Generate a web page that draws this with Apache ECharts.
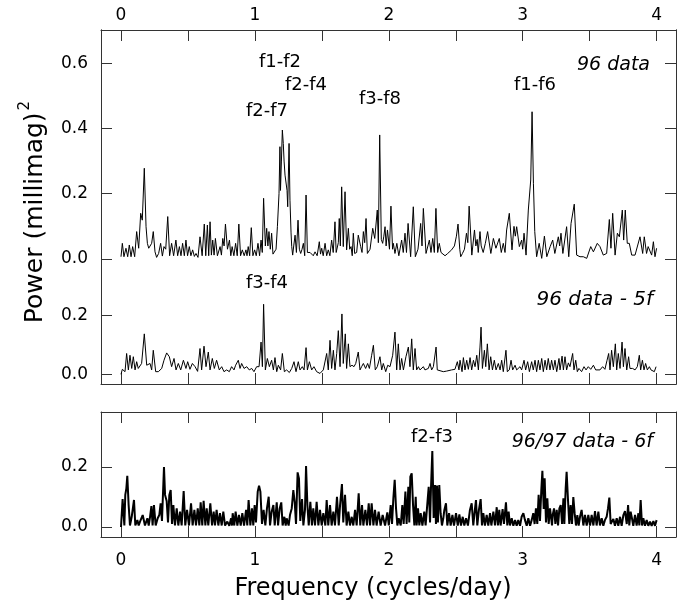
<!DOCTYPE html>
<html><head><meta charset="utf-8">
<script src="https://cdn.jsdelivr.net/npm/echarts@6/dist/echarts.min.js"></script>
<style>html,body{margin:0;padding:0;background:#fff}#c{width:684px;height:614px}</style>
</head><body><div id="c"></div>
<script>
// ---- data (frequency in cycles/day, power in millimag^2) ----
const top96Freq = [0.000,0.010,0.022,0.037,0.050,0.062,0.075,0.087,0.102,0.117,0.132,0.147,0.159,0.174,0.187,0.197,0.207,0.217,0.229,0.241,0.254,0.266,0.281,0.296,0.309,0.321,0.334,0.349,0.363,0.378,0.393,0.410,0.423,0.436,0.448,0.460,0.473,0.485,0.497,0.510,0.522,0.535,0.548,0.560,0.575,0.590,0.606,0.622,0.633,0.645,0.655,0.665,0.675,0.685,0.695,0.705,0.720,0.740,0.750,0.760,0.770,0.780,0.795,0.810,0.820,0.830,0.843,0.856,0.868,0.880,0.893,0.906,0.920,0.933,0.941,0.950,0.961,0.973,0.985,0.998,1.010,1.023,1.035,1.046,1.055,1.065,1.078,1.088,1.097,1.105,1.115,1.125,1.135,1.145,1.158,1.168,1.180,1.187,1.191,1.198,1.205,1.212,1.218,1.225,1.232,1.240,1.245,1.255,1.262,1.270,1.275,1.282,1.290,1.300,1.310,1.322,1.332,1.342,1.352,1.362,1.372,1.382,1.392,1.400,1.412,1.424,1.436,1.449,1.465,1.481,1.490,1.499,1.510,1.524,1.536,1.548,1.560,1.573,1.585,1.598,1.607,1.616,1.623,1.630,1.638,1.648,1.660,1.673,1.685,1.698,1.708,1.718,1.727,1.735,1.745,1.760,1.772,1.790,1.800,1.810,1.820,1.830,1.840,1.860,1.880,1.895,1.914,1.922,1.932,1.944,1.954,1.963,1.972,1.980,1.990,2.005,2.016,2.028,2.034,2.046,2.060,2.075,2.096,2.108,2.121,2.132,2.144,2.163,2.183,2.198,2.218,2.238,2.248,2.258,2.278,2.303,2.315,2.328,2.340,2.352,2.365,2.377,2.390,2.402,2.420,2.440,2.469,2.490,2.505,2.517,2.530,2.537,2.550,2.565,2.580,2.590,2.600,2.620,2.640,2.650,2.660,2.668,2.681,2.690,2.705,2.721,2.738,2.762,2.781,2.800,2.825,2.840,2.855,2.868,2.880,2.900,2.920,2.935,2.945,2.955,2.975,2.992,3.000,3.010,3.025,3.042,3.060,3.070,3.080,3.090,3.104,3.123,3.142,3.162,3.180,3.205,3.224,3.240,3.266,3.276,3.286,3.300,3.328,3.344,3.361,3.370,3.385,3.403,3.428,3.453,3.478,3.508,3.528,3.557,3.577,3.602,3.627,3.647,3.659,3.672,3.690,3.707,3.722,3.744,3.754,3.766,3.781,3.796,3.814,3.839,3.876,3.896,3.908,3.925,3.937,3.963,3.976,3.988,4.000];
const top96Power = [0.007,0.048,0.007,0.033,0.007,0.043,0.007,0.038,0.007,0.084,0.033,0.140,0.119,0.278,0.099,0.048,0.033,0.028,0.048,0.084,0.022,0.005,0.017,0.048,0.009,0.038,0.030,0.130,0.010,0.048,0.010,0.058,0.010,0.038,0.010,0.048,0.010,0.058,0.010,0.038,0.010,0.028,0.008,0.017,0.005,0.068,0.010,0.107,0.010,0.104,0.010,0.114,0.012,0.058,0.012,0.063,0.010,0.038,0.012,0.063,0.040,0.107,0.030,0.058,0.010,0.038,0.010,0.048,0.010,0.107,0.010,0.028,0.010,0.028,0.010,0.038,0.010,0.096,0.010,0.028,0.010,0.048,0.010,0.058,0.020,0.186,0.040,0.094,0.040,0.084,0.030,0.079,0.015,0.017,0.030,0.099,0.200,0.344,0.210,0.300,0.395,0.354,0.300,0.257,0.260,0.210,0.160,0.354,0.180,0.080,0.038,0.012,0.040,0.073,0.020,0.119,0.030,0.017,0.030,0.048,0.010,0.196,0.020,0.017,0.020,0.017,0.010,0.022,0.010,0.053,0.015,0.033,0.010,0.048,0.010,0.028,0.010,0.058,0.020,0.114,0.020,0.022,0.050,0.124,0.040,0.221,0.038,0.206,0.028,0.094,0.030,0.038,0.010,0.079,0.017,0.020,0.073,0.038,0.020,0.084,0.050,0.124,0.017,0.030,0.094,0.063,0.150,0.050,0.380,0.060,0.048,0.070,0.099,0.040,0.089,0.030,0.162,0.030,0.048,0.017,0.048,0.010,0.058,0.020,0.079,0.020,0.109,0.007,0.160,0.007,0.030,0.109,0.040,0.155,0.017,0.058,0.020,0.063,0.020,0.155,0.020,0.048,0.020,0.022,0.010,0.017,0.028,0.040,0.070,0.107,0.030,0.007,0.017,0.030,0.079,0.050,0.162,0.012,0.089,0.040,0.060,0.020,0.084,0.040,0.020,0.048,0.084,0.017,0.063,0.033,0.063,0.020,0.048,0.020,0.089,0.140,0.028,0.100,0.070,0.099,0.038,0.058,0.030,0.079,0.012,0.150,0.242,0.451,0.232,0.084,0.007,0.048,0.002,0.070,0.007,0.038,0.058,0.017,0.068,0.040,0.079,0.017,0.099,0.007,0.109,0.109,0.168,0.012,0.007,0.007,0.002,0.038,0.022,0.048,0.038,0.012,0.017,0.121,0.033,0.140,0.012,0.079,0.068,0.150,0.058,0.150,0.048,0.048,0.012,0.012,0.068,0.017,0.068,0.017,0.038,0.012,0.053,0.007,0.033];

const res5fFreq = [0.000,0.010,0.017,0.030,0.042,0.055,0.067,0.080,0.092,0.105,0.117,0.129,0.142,0.154,0.174,0.192,0.217,0.229,0.241,0.259,0.279,0.304,0.321,0.341,0.361,0.378,0.396,0.411,0.428,0.446,0.466,0.485,0.498,0.515,0.533,0.553,0.572,0.590,0.602,0.620,0.635,0.652,0.665,0.682,0.697,0.714,0.734,0.752,0.769,0.789,0.809,0.826,0.844,0.856,0.876,0.889,0.901,0.919,0.939,0.958,0.976,0.993,1.006,1.013,1.031,1.046,1.056,1.065,1.078,1.093,1.108,1.125,1.138,1.150,1.163,1.175,1.192,1.205,1.220,1.237,1.257,1.275,1.292,1.307,1.324,1.337,1.354,1.367,1.382,1.392,1.407,1.424,1.441,1.461,1.486,1.511,1.524,1.536,1.548,1.561,1.573,1.586,1.598,1.611,1.623,1.636,1.650,1.660,1.675,1.685,1.698,1.710,1.725,1.740,1.753,1.772,1.785,1.797,1.810,1.827,1.842,1.855,1.872,1.885,1.899,1.914,1.934,1.947,1.959,1.977,1.992,2.009,2.029,2.046,2.059,2.071,2.084,2.096,2.109,2.128,2.146,2.158,2.171,2.183,2.196,2.208,2.221,2.233,2.258,2.270,2.295,2.308,2.320,2.333,2.353,2.362,2.375,2.407,2.432,2.469,2.494,2.512,2.524,2.532,2.547,2.557,2.569,2.582,2.594,2.607,2.619,2.632,2.644,2.657,2.669,2.681,2.689,2.699,2.714,2.724,2.736,2.749,2.761,2.774,2.788,2.801,2.818,2.831,2.843,2.855,2.875,2.885,2.900,2.913,2.925,2.943,2.955,2.967,2.980,2.992,3.010,3.022,3.037,3.050,3.067,3.079,3.092,3.104,3.117,3.129,3.142,3.154,3.167,3.179,3.191,3.204,3.216,3.229,3.241,3.254,3.271,3.279,3.294,3.304,3.316,3.328,3.341,3.353,3.373,3.383,3.396,3.408,3.420,3.440,3.458,3.473,3.490,3.508,3.528,3.545,3.557,3.577,3.597,3.614,3.630,3.642,3.652,3.664,3.677,3.692,3.702,3.714,3.727,3.742,3.752,3.764,3.777,3.791,3.801,3.821,3.839,3.856,3.871,3.881,3.894,3.906,3.918,3.931,3.946,3.958,3.971,3.983,3.996];
const res5fPower = [0.000,0.017,0.020,0.009,0.071,0.015,0.065,0.020,0.060,0.015,0.043,0.020,0.026,0.037,0.138,0.031,0.037,0.015,0.082,0.009,0.009,0.020,0.048,0.073,0.060,0.026,0.054,0.015,0.037,0.015,0.048,0.020,0.043,0.017,0.037,0.026,0.010,0.088,0.015,0.096,0.026,0.076,0.015,0.054,0.020,0.048,0.015,0.026,0.009,0.015,0.009,0.026,0.015,0.031,0.048,0.020,0.037,0.020,0.026,0.015,0.020,0.009,0.006,0.026,0.026,0.110,0.026,0.239,0.015,0.054,0.026,0.048,0.015,0.057,0.009,0.031,0.015,0.071,0.009,0.015,0.006,0.020,0.043,0.009,0.043,0.015,0.026,0.015,0.091,0.015,0.043,0.015,0.026,0.009,0.003,0.015,0.020,0.071,0.015,0.116,0.020,0.082,0.015,0.071,0.149,0.026,0.206,0.037,0.138,0.020,0.104,0.026,0.031,0.026,0.037,0.076,0.015,0.026,0.037,0.020,0.037,0.020,0.065,0.099,0.015,0.026,0.060,0.015,0.037,0.009,0.031,0.026,0.065,0.144,0.015,0.104,0.015,0.054,0.015,0.060,0.093,0.026,0.121,0.015,0.088,0.015,0.026,0.015,0.026,0.015,0.020,0.037,0.015,0.026,0.093,0.015,0.009,0.009,0.011,0.015,0.017,0.043,0.015,0.048,0.009,0.057,0.015,0.048,0.017,0.057,0.015,0.048,0.026,0.065,0.015,0.093,0.161,0.020,0.082,0.026,0.104,0.015,0.060,0.015,0.048,0.015,0.037,0.015,0.048,0.009,0.082,0.009,0.015,0.048,0.015,0.031,0.015,0.009,0.026,0.015,0.048,0.015,0.043,0.009,0.043,0.015,0.048,0.009,0.048,0.015,0.054,0.009,0.048,0.015,0.054,0.015,0.048,0.015,0.048,0.009,0.054,0.015,0.062,0.015,0.060,0.015,0.039,0.026,0.071,0.015,0.048,0.009,0.020,0.009,0.026,0.015,0.026,0.017,0.031,0.015,0.020,0.015,0.026,0.017,0.048,0.071,0.015,0.082,0.026,0.104,0.015,0.071,0.020,0.110,0.026,0.088,0.015,0.060,0.020,0.020,0.015,0.026,0.065,0.015,0.048,0.015,0.037,0.015,0.026,0.015,0.020,0.009,0.026];

const res6fFreq = [0.000,0.012,0.025,0.032,0.040,0.047,0.057,0.067,0.080,0.097,0.107,0.122,0.132,0.142,0.162,0.179,0.197,0.207,0.217,0.227,0.236,0.246,0.259,0.274,0.286,0.296,0.306,0.321,0.329,0.341,0.351,0.361,0.371,0.381,0.391,0.403,0.416,0.428,0.441,0.453,0.468,0.480,0.493,0.508,0.523,0.535,0.548,0.560,0.573,0.585,0.595,0.607,0.617,0.630,0.640,0.652,0.667,0.680,0.692,0.702,0.714,0.727,0.739,0.752,0.764,0.777,0.794,0.809,0.822,0.829,0.834,0.846,0.856,0.869,0.881,0.894,0.906,0.919,0.934,0.943,0.953,0.966,0.978,0.988,0.998,1.008,1.021,1.031,1.041,1.053,1.065,1.078,1.090,1.103,1.113,1.125,1.138,1.148,1.163,1.173,1.185,1.197,1.207,1.220,1.230,1.237,1.252,1.262,1.275,1.287,1.297,1.307,1.319,1.329,1.339,1.352,1.362,1.374,1.382,1.392,1.402,1.414,1.426,1.436,1.449,1.461,1.474,1.486,1.499,1.511,1.526,1.536,1.548,1.561,1.573,1.586,1.598,1.613,1.626,1.636,1.650,1.660,1.673,1.685,1.698,1.710,1.723,1.735,1.748,1.760,1.775,1.787,1.800,1.810,1.825,1.837,1.850,1.860,1.872,1.885,1.897,1.909,1.924,1.939,1.954,1.972,1.989,2.000,2.014,2.024,2.034,2.044,2.054,2.064,2.074,2.089,2.101,2.111,2.124,2.133,2.146,2.153,2.161,2.171,2.181,2.191,2.201,2.208,2.218,2.228,2.238,2.251,2.265,2.275,2.288,2.298,2.308,2.315,2.325,2.335,2.345,2.352,2.360,2.367,2.377,2.387,2.397,2.407,2.415,2.427,2.437,2.450,2.462,2.475,2.487,2.502,2.515,2.527,2.539,2.552,2.564,2.577,2.591,2.606,2.619,2.631,2.644,2.651,2.661,2.673,2.686,2.696,2.706,2.718,2.731,2.743,2.756,2.766,2.781,2.793,2.806,2.815,2.825,2.835,2.850,2.860,2.875,2.885,2.895,2.905,2.918,2.930,2.943,2.955,2.967,2.980,2.992,3.005,3.017,3.030,3.042,3.055,3.067,3.079,3.089,3.099,3.109,3.119,3.129,3.139,3.147,3.157,3.164,3.174,3.184,3.194,3.204,3.214,3.219,3.224,3.234,3.244,3.254,3.264,3.274,3.284,3.294,3.304,3.311,3.321,3.328,3.339,3.348,3.358,3.368,3.378,3.388,3.398,3.408,3.418,3.428,3.440,3.453,3.465,3.478,3.490,3.503,3.515,3.528,3.540,3.552,3.565,3.577,3.590,3.602,3.614,3.627,3.637,3.647,3.657,3.667,3.677,3.689,3.702,3.714,3.727,3.739,3.752,3.764,3.777,3.787,3.796,3.806,3.816,3.826,3.839,3.851,3.864,3.871,3.881,3.891,3.901,3.913,3.926,3.938,3.951,3.963,3.976,3.988,4.000];
const res6fPower = [0.000,0.093,0.005,0.107,0.129,0.171,0.073,0.005,0.034,0.090,
  0.005,0.023,0.005,0.018,0.040,0.005,0.029,0.005,0.034,0.070,
  0.005,0.073,0.005,0.029,0.040,0.079,0.020,0.200,0.107,0.087,
  0.015,0.107,0.123,0.010,0.073,0.005,0.062,0.005,0.051,0.005,
  0.120,0.005,0.057,0.005,0.079,0.005,0.057,0.005,0.062,0.005,
  0.082,0.005,0.087,0.005,0.062,0.005,0.079,0.005,0.051,0.005,
  0.057,0.005,0.046,0.005,0.051,0.005,0.018,0.004,0.029,0.005,
  0.046,0.005,0.051,0.005,0.040,0.005,0.046,0.005,0.057,0.005,
  0.090,0.005,0.062,0.005,0.073,0.015,0.118,0.138,0.118,0.010,
  0.057,0.005,0.062,0.101,0.005,0.051,0.073,0.005,0.082,0.005,
  0.062,0.082,0.005,0.034,0.005,0.029,0.005,0.040,0.062,0.123,
  0.084,0.010,0.182,0.162,0.020,0.093,0.005,0.057,0.203,0.073,
  0.005,0.084,0.005,0.062,0.005,0.084,0.005,0.057,0.005,0.046,
  0.005,0.090,0.005,0.073,0.005,0.051,0.005,0.101,0.005,0.073,
  0.143,0.015,0.107,0.005,0.051,0.005,0.034,0.005,0.057,0.005,
  0.112,0.005,0.073,0.005,0.057,0.005,0.079,0.005,0.079,0.005,
  0.057,0.005,0.051,0.005,0.040,0.005,0.049,0.005,0.073,0.010,
  0.096,0.157,0.062,0.005,0.029,0.005,0.073,0.010,0.118,0.010,
  0.134,0.015,0.168,0.179,0.073,0.005,0.101,0.005,0.062,0.005,
  0.046,0.005,0.051,0.005,0.079,0.134,0.015,0.129,0.253,0.030,
  0.140,0.010,0.138,0.015,0.140,0.046,0.005,0.029,0.057,0.079,
  0.005,0.046,0.005,0.040,0.005,0.046,0.005,0.042,0.005,0.034,
  0.005,0.029,0.005,0.057,0.079,0.005,0.062,0.090,0.005,0.057,
  0.093,0.005,0.046,0.005,0.040,0.005,0.046,0.005,0.051,0.005,
  0.066,0.005,0.057,0.005,0.060,0.010,0.082,0.005,0.051,0.005,
  0.029,0.004,0.023,0.004,0.023,0.004,0.034,0.046,0.023,0.004,
  0.029,0.004,0.023,0.046,0.010,0.062,0.010,0.107,0.020,0.123,
  0.187,0.060,0.162,0.015,0.096,0.010,0.062,0.066,0.005,0.040,
  0.062,0.010,0.057,0.005,0.062,0.073,0.010,0.096,0.010,0.129,
  0.184,0.084,0.010,0.073,0.010,0.100,0.046,0.005,0.040,0.005,
  0.034,0.057,0.005,0.040,0.005,0.040,0.005,0.040,0.005,0.053,
  0.005,0.051,0.005,0.029,0.004,0.023,0.034,0.062,0.098,0.010,
  0.004,0.027,0.004,0.029,0.004,0.034,0.004,0.040,0.053,0.010,
  0.073,0.005,0.051,0.029,0.004,0.040,0.005,0.046,0.005,0.090,
  0.005,0.029,0.004,0.023,0.004,0.018,0.004,0.020,0.004,0.023];

// ---- tick values / labels ----
const xTickValues = [0,0.5,1,1.5,2,2.5,3,3.5,4];
const xLabelValues = [0,1,2,3,4];
const topYTicks = [0,0.2,0.4,0.6];
const res5fYTicks = [0,0.2];
const res6fYTicks = [0,0.2];
const annotations96 = ['f1-f2','f2-f4','f2-f7','f3-f8','f1-f6'];

const pairs = (f, p) => f.map((v, i) => [v, p[i]]);

const FONT = 'DejaVu Sans';
const XMIN = -0.1494, XMAX = 4.1449;
const frameColor = '#333';
const tick = (vals, show) => ({show: show, inside: true, length: 11, customValues: vals, lineStyle: {color: frameColor, width: 1}});
const lbl = (vals, show, margin, fmt) => ({show: show, customValues: vals, margin: margin, color: '#000', fontSize: 17, fontFamily: FONT, formatter: fmt});
const line = {show: true, onZero: false, lineStyle: {color: frameColor, width: 1}};
const f1 = v => Number(v).toFixed(1);
const f0 = v => String(Math.round(v));

function xAx(grid, pos, showLabel, showAxis) {
  return {type: 'value', gridIndex: grid, position: pos, min: XMIN, max: XMAX, show: showAxis !== false,
    axisLine: line, axisTick: tick(xTickValues, true), axisLabel: lbl(xLabelValues, showLabel, showLabel ? (pos === 'top' ? 6 : 15) : 8, f0),
    splitLine: {show: false}};
}
function yAx(grid, pos, min, max, vals, showLabel) {
  return {type: 'value', gridIndex: grid, position: pos, min: min, max: max,
    axisLine: line, axisTick: tick(vals, true), axisLabel: lbl(vals, showLabel, 13, f1), splitLine: {show: false}};
}

const chart = echarts.init(document.getElementById('c'), null, {renderer: 'canvas'});
chart.setOption({
  animation: false,
  backgroundColor: '#fff',
  grid: [
    {left: 101, right: 8, top: 30, height: 354},
    {left: 101, right: 8, top: 30, height: 354},
    {left: 101, right: 8, top: 412, height: 125}
  ],
  xAxis: [
    xAx(0, 'top', true),
    xAx(0, 'bottom', false),
    xAx(1, 'bottom', false, false),
    xAx(2, 'bottom', true),
    xAx(2, 'top', false)
  ],
  yAxis: [
    yAx(0, 'left', -0.3828, 0.7014, topYTicks, true),
    yAx(0, 'right', -0.3828, 0.7014, topYTicks, false),
    yAx(1, 'left', -0.0331, 1.1751, res5fYTicks, true),
    yAx(1, 'right', -0.0331, 1.1751, res5fYTicks, false),
    yAx(2, 'left', -0.0333, 0.3833, res6fYTicks, true),
    yAx(2, 'right', -0.0333, 0.3833, res6fYTicks, false)
  ],
  series: [
    {type: 'line', name: '96 data', xAxisIndex: 0, yAxisIndex: 0, data: pairs(top96Freq, top96Power),
      showSymbol: false, lineStyle: {color: '#000', width: 1}, clip: false},
    {type: 'line', name: '96 data - 5f', xAxisIndex: 2, yAxisIndex: 2, data: pairs(res5fFreq, res5fPower),
      showSymbol: false, lineStyle: {color: '#000', width: 1}, clip: false},
    {type: 'line', name: '96/97 data - 6f', xAxisIndex: 3, yAxisIndex: 4, data: pairs(res6fFreq, res6fPower),
      showSymbol: false, lineStyle: {color: '#000', width: 2}, clip: false}
  ],
  graphic: [
    {type: 'text', x: 280, y: 62, style: {text: annotations96[0], font: '18px ' + FONT, fill: '#000', textAlign: 'center', textVerticalAlign: 'middle'}},
    {type: 'text', x: 306, y: 85, style: {text: annotations96[1], font: '18px ' + FONT, fill: '#000', textAlign: 'center', textVerticalAlign: 'middle'}},
    {type: 'text', x: 267, y: 111, style: {text: annotations96[2], font: '18px ' + FONT, fill: '#000', textAlign: 'center', textVerticalAlign: 'middle'}},
    {type: 'text', x: 380, y: 99, style: {text: annotations96[3], font: '18px ' + FONT, fill: '#000', textAlign: 'center', textVerticalAlign: 'middle'}},
    {type: 'text', x: 535, y: 85, style: {text: annotations96[4], font: '18px ' + FONT, fill: '#000', textAlign: 'center', textVerticalAlign: 'middle'}},
    {type: 'text', x: 650, y: 65, style: {text: '96 data', font: 'italic 19px ' + FONT, fill: '#000', textAlign: 'right', textVerticalAlign: 'middle'}},
    {type: 'text', x: 267, y: 283, style: {text: 'f3-f4', font: '18px ' + FONT, fill: '#000', textAlign: 'center', textVerticalAlign: 'middle'}},
    {type: 'text', x: 653, y: 300, style: {text: '96 data - 5f', font: 'italic 20px ' + FONT, fill: '#000', textAlign: 'right', textVerticalAlign: 'middle'}},
    {type: 'text', x: 432, y: 437, style: {text: 'f2-f3', font: '18px ' + FONT, fill: '#000', textAlign: 'center', textVerticalAlign: 'middle'}},
    {type: 'text', x: 653, y: 442, style: {text: '96/97 data - 6f', font: 'italic 19px ' + FONT, fill: '#000', textAlign: 'right', textVerticalAlign: 'middle'}},
    {type: 'text', x: 373, y: 589, style: {text: 'Frequency (cycles/day)', font: '24px ' + FONT, fill: '#000', textAlign: 'center', textVerticalAlign: 'middle'}},
    {type: 'text', x: 33, y: 212, rotation: Math.PI / 2,
      style: {text: '{a|Power (millimag)}{b|2}', fill: '#000', textAlign: 'center', textVerticalAlign: 'middle',
        rich: {a: {fontSize: 25, fontFamily: FONT, lineHeight: 30, verticalAlign: 'bottom'}, b: {fontSize: 15, fontFamily: FONT, verticalAlign: 'top', lineHeight: 30, padding: [0, 0, 0, 2]}}}}
  ]
});
</script>
</body></html>
